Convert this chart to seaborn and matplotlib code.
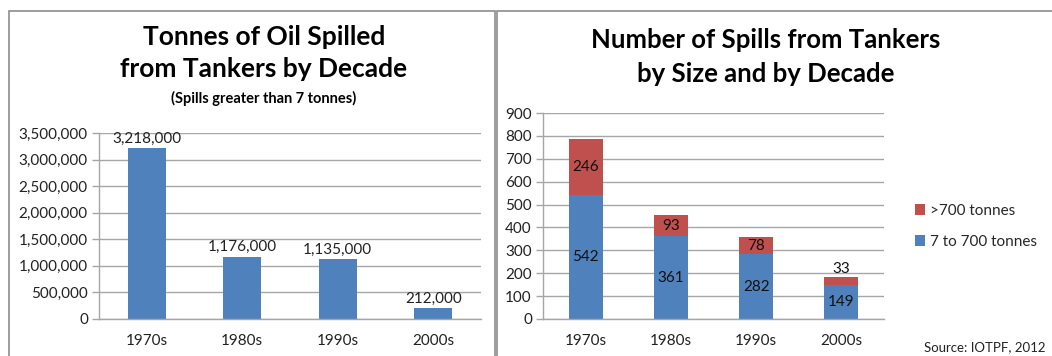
import matplotlib
matplotlib.use("Agg")
import matplotlib.pyplot as plt
import seaborn as sns
import pandas as pd
from matplotlib.patches import Rectangle
from matplotlib.ticker import FuncFormatter, FixedLocator

decades = ["1970s", "1980s", "1990s", "2000s"]
tonnes_spilled = [3218000, 1176000, 1135000, 212000]
spills_small = [542, 361, 282, 149]   # 7 to 700 tonnes
spills_large = [246, 93, 78, 33]      # >700 tonnes

BLUE = "#4F81BD"
RED = "#C0504D"
GRID = "#A6A6A6"
FONT = ["Lato", "DejaVu Sans"]

sns.set_theme(style="white")
plt.rcParams["font.family"] = FONT

W, H = 1052, 356
fig = plt.figure(figsize=(W / 100, H / 100), dpi=100)
fig.patch.set_facecolor("white")

def px_axes(x0, y0, x1, y1):
    return fig.add_axes([x0 / W, 1 - y1 / H, (x1 - x0) / W, (y1 - y0) / H])

# panel borders
fig.add_artist(Rectangle((9 / W, -0.1), (495 - 9) / W, (H - 10.5) / H + 0.1,
                         transform=fig.transFigure, fill=False, ec="#8C8C8C", lw=1.2))
fig.add_artist(Rectangle((497 / W, -0.1), (W + 5 - 497) / W, (H - 10.5) / H + 0.1,
                         transform=fig.transFigure, fill=False, ec="#8C8C8C", lw=1.2))

def style_axes(ax, ymax, step, fmt):
    ax.set_xlim(-0.5, 3.5)
    ax.set_ylim(0, ymax)
    ax.yaxis.set_major_locator(FixedLocator(list(range(0, ymax + 1, step))))
    ax.yaxis.set_major_formatter(FuncFormatter(fmt))
    ax.grid(axis="y", color=GRID, lw=1)
    ax.set_axisbelow(True)
    for s in ["top", "right"]:
        ax.spines[s].set_visible(False)
    for s in ["left", "bottom"]:
        ax.spines[s].set_color(GRID)
        ax.spines[s].set_linewidth(1)
    ax.set_xticks([-0.5, 0.5, 1.5, 2.5, 3.5], minor=True)
    ax.tick_params(axis="x", which="minor", length=5, color=GRID, direction="out", width=1)
    ax.tick_params(axis="x", which="major", length=0, pad=11, labelsize=11, labelcolor="#222222")
    ax.tick_params(axis="y", length=5, color=GRID, direction="out", width=1, pad=3,
                   labelsize=11, labelcolor="#222222", left=True)
    ax.set_xlabel("")
    ax.set_ylabel("")

# ---------- Left chart ----------
ax1 = px_axes(99, 133, 481, 319)
df1 = pd.DataFrame({"decade": decades, "tonnes": tonnes_spilled})
sns.barplot(data=df1, x="decade", y="tonnes", color=BLUE, saturation=1, width=0.4,
            ax=ax1, edgecolor="none")
style_axes(ax1, 3500000, 500000, lambda v, p: f"{int(v):,}")
for i, v in enumerate(tonnes_spilled):
    ax1.text(i, v + 40000, f"{v:,}", ha="center", va="bottom", fontsize=11, color="#222222")

fig.text(264 / W, 1 - 53 / H, "Tonnes of Oil Spilled\nfrom Tankers by Decade",
         ha="center", va="center", fontsize=19, fontweight="bold", linespacing=1.4, color="black")
fig.text(264 / W, 1 - 98 / H, "(Spills greater than 7 tonnes)", ha="center", va="center",
         fontsize=10.5, fontweight="bold", color="black")

# ---------- Right chart ----------
ax2 = px_axes(543, 113, 884, 319)
totals = [a + b for a, b in zip(spills_small, spills_large)]
df_tot = pd.DataFrame({"decade": decades, "value": totals})
df_small = pd.DataFrame({"decade": decades, "value": spills_small})
sns.barplot(data=df_tot, x="decade", y="value", color=RED, saturation=1, width=0.4,
            ax=ax2, edgecolor="none", label=">700 tonnes")
sns.barplot(data=df_small, x="decade", y="value", color=BLUE, saturation=1, width=0.4,
            ax=ax2, edgecolor="none", label="7 to 700 tonnes")
style_axes(ax2, 900, 100, lambda v, p: f"{int(v)}")

for i, (s, l) in enumerate(zip(spills_small, spills_large)):
    ax2.text(i, s / 2, f"{s}", ha="center", va="center", fontsize=11, color="#111111")
    if l >= 50:
        ax2.text(i, s + l / 2, f"{l}", ha="center", va="center", fontsize=11, color="#111111")
    else:
        ax2.text(i, s + l + 5, f"{l}", ha="center", va="bottom", fontsize=11, color="#111111")

leg = ax2.legend(loc="center left", bbox_to_anchor=(1.05, 0.45), frameon=False,
                 fontsize=11, handlelength=0.7, handleheight=0.7, handletextpad=0.3,
                 labelspacing=1.1)

fig.text(1046 / W, 1 - 347 / H, "Source: IOTPF, 2012", ha="right", va="center",
         fontsize=9.5, color="#222222")

fig.text(766 / W, 1 - 57 / H, "Number of Spills from Tankers\nby Size and by Decade",
         ha="center", va="center", fontsize=18.5, fontweight="bold", linespacing=1.45, color="black")

fig.savefig("out.png", dpi=100, facecolor="white")
